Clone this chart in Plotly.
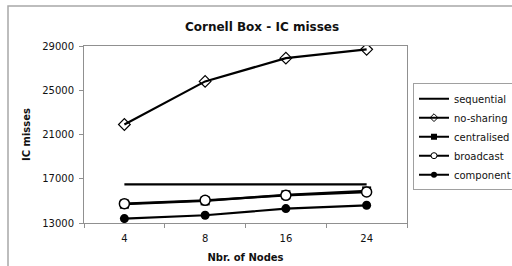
import plotly.graph_objects as go

nodes = ["4", "8", "16", "24"]
sequential = [16500, 16500, 16500, 16500]
no_sharing = [21900, 25800, 27900, 28700]
centralised = [14700, 15000, 15550, 15900]
broadcast = [14750, 15050, 15500, 15800]
component = [13400, 13700, 14300, 14600]

series = [
    ("sequential", sequential, None, None),
    ("no-sharing", no_sharing,
     dict(symbol="diamond-open", size=9, color="black", line=dict(width=1.2)),
     dict(symbol="diamond-open", size=6, color="black", line=dict(width=1))),
    ("centralised", centralised,
     dict(symbol="square", size=9, color="black"),
     dict(symbol="square", size=6, color="black")),
    ("broadcast", broadcast,
     dict(symbol="circle", size=10, color="white", line=dict(width=1.5, color="black")),
     dict(symbol="circle", size=6, color="white", line=dict(width=1, color="black"))),
    ("component", component,
     dict(symbol="circle", size=9, color="black"),
     dict(symbol="circle", size=6, color="black")),
]

fig = go.Figure()
for name, vals, mk, lmk in series:
    if mk is None:
        fig.add_trace(go.Scatter(x=nodes, y=vals, name=name, mode="lines", showlegend=False,
                                 line=dict(color="black", width=2.2)))
        fig.add_trace(go.Scatter(x=[None], y=[None], name=name, mode="lines",
                                 line=dict(color="black", width=2)))
    else:
        fig.add_trace(go.Scatter(x=nodes, y=vals, name=name, mode="lines+markers",
                                 showlegend=False,
                                 line=dict(color="black", width=2.2), marker=mk))
        fig.add_trace(go.Scatter(x=[None], y=[None], name=name, mode="lines+markers",
                                 line=dict(color="black", width=2), marker=lmk))

font = "DejaVu Sans, Arial, sans-serif"
fig.update_layout(
    width=512, height=266,
    margin=dict(l=84, r=105, t=46, b=43, autoexpand=False),
    paper_bgcolor="white", plot_bgcolor="white",
    font=dict(family=font, size=10, color="#111111"),
    title=dict(text="<b>Cornell Box - IC misses</b>", x=262 / 512, xanchor="center",
               y=1 - 27 / 266, yanchor="middle", font=dict(size=12)),
    showlegend=True,
    legend=dict(x=(413 - 84) / 323, y=0.79, xanchor="left", yanchor="top",
                bordercolor="#a0a0a0", borderwidth=1, bgcolor="white",
                font=dict(size=10), itemwidth=30, tracegroupgap=0),
    xaxis=dict(type="category", range=[-0.5, 3.5], showline=True, linecolor="#909090",
               mirror=True, ticks="outside", tickson="boundaries", ticklen=4,
               tickcolor="#909090", showgrid=False, zeroline=False, ticklabelstandoff=6,
               title=dict(text="<b>Nbr. of Nodes</b>", standoff=10, font=dict(size=10))),
    yaxis=dict(range=[13000, 29000], tickvals=[13000, 17000, 21000, 25000, 29000],
               tickformat="d", showline=True, linecolor="#909090", mirror=True,
               ticks="outside", ticklen=4, tickcolor="#909090", showgrid=False,
               zeroline=False, ticklabelstandoff=3,
               title=dict(text="<b>IC misses</b>", standoff=9, font=dict(size=10))),
)

fig.add_shape(type="rect", xref="paper", yref="paper",
              x0=(8 - 84) / 323, x1=(530 - 84) / 323,
              y0=1 + (46 - 280) / 177, y1=1 + (46 - 6) / 177,
              line=dict(color="#a8a8a8", width=1.5), layer="below")

fig.write_html("out.html", config={"displayModeBar": False},
               post_script="document.body.style.margin='0';")
